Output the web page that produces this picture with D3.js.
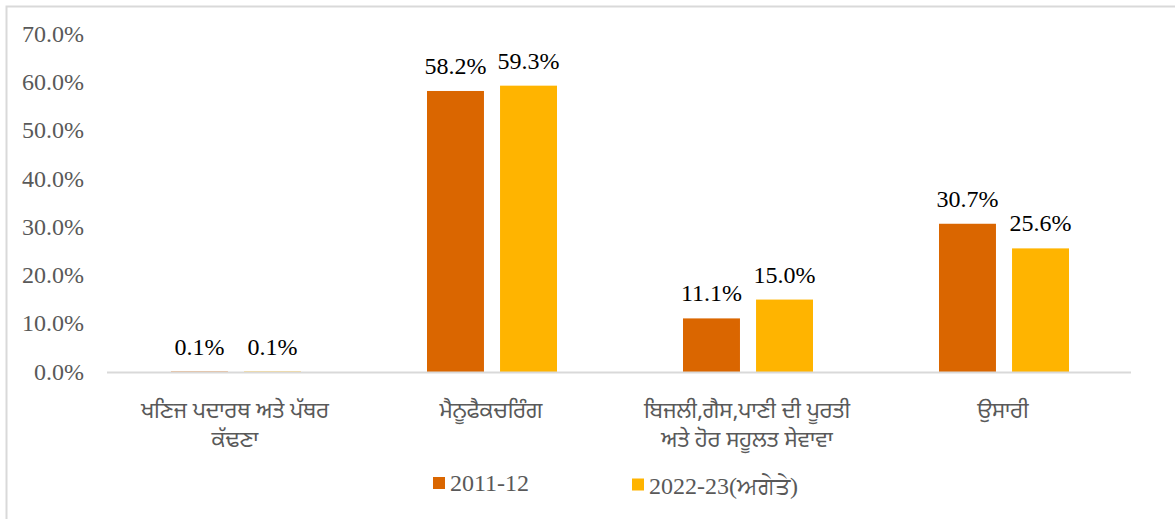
<!DOCTYPE html>
<html>
<head>
<meta charset="utf-8">
<script src="https://cdn.jsdelivr.net/npm/d3@7/dist/d3.min.js"></script>
<style>
  html, body { margin: 0; padding: 0; background: #fff; }
  svg { display: block; }
</style>
</head>
<body>
<svg id="chart" width="1175" height="519"></svg>
<script>
// Sector shares of the secondary sector (percent)
const categories = [
  ["ਖਣਿਜ ਪਦਾਰਥ ਅਤੇ ਪੱਥਰ", "ਕੱਢਣਾ"],
  ["ਮੈਨੂਫੈਕਚਰਿੰਗ"],
  ["ਬਿਜਲੀ,ਗੈਸ,ਪਾਣੀ ਦੀ ਪੂਰਤੀ", "ਅਤੇ ਹੋਰ ਸਹੂਲਤ ਸੇਵਾਵਾ"],
  ["ਉਸਾਰੀ"]
];
const seriesNames = ["2011-12", "2022-23(ਅਗੇਤੇ)"];
const values2011 = [0.1, 58.2, 11.1, 30.7];
const values2022 = [0.1, 59.3, 15.0, 25.6];
const yTicks = [0, 10, 20, 30, 40, 50, 60, 70];
const colors = ["#DA6600", "#FFB400"];

const svg = d3.select("#chart");
const serif = "'Liberation Serif', 'Times New Roman', serif";
const gurmukhi = "'Noto Sans Gurmukhi', 'Lohit Gurmukhi', 'Noto Sans', sans-serif";

// outer frame (only top and left edges fall inside the canvas)
svg.append("rect")
  .attr("x", 6.5).attr("y", 6.5)
  .attr("width", 1300).attr("height", 600)
  .attr("fill", "none").attr("stroke", "#d9d9d9").attr("stroke-width", 2);

const plot = { left: 107, right: 1131, top: 34, bottom: 372 };

const x0 = d3.scaleBand()
  .domain(d3.range(categories.length))
  .range([plot.left, plot.right])
  .padding(0);

const x1 = d3.scaleBand()
  .domain(d3.range(seriesNames.length))
  .range([64, 64 + 130])
  .paddingInner(0.22)
  .paddingOuter(0);

const y = d3.scaleLinear().domain([0, 70]).range([plot.bottom, plot.top]);

// y axis labels
const yAxis = d3.axisLeft(y).tickValues(yTicks).tickSize(0).tickPadding(0)
  .tickFormat(d => d.toFixed(1) + "%");
const yg = svg.append("g").attr("transform", "translate(84,0)").call(yAxis);
yg.select(".domain").remove();
yg.selectAll("text")
  .attr("font-family", serif).attr("font-size", 24).attr("fill", "#595959")
  .attr("dy", "0.3em");

// bars
const seriesValues = [values2011, values2022];
const groups = svg.append("g").selectAll("g")
  .data(categories.map((c, i) => i))
  .join("g")
  .attr("transform", i => `translate(${x0(i)},0)`);

groups.selectAll("rect")
  .data(i => seriesValues.map((vals, s) => ({ s, v: vals[i] })))
  .join("rect")
  .attr("x", d => x1(d.s))
  .attr("width", x1.bandwidth())
  .attr("y", d => y(d.v))
  .attr("height", d => y(0) - y(d.v))
  .attr("fill", d => colors[d.s]);

groups.selectAll("text.val")
  .data(i => seriesValues.map((vals, s) => ({ s, v: vals[i] })))
  .join("text")
  .attr("class", "val")
  .attr("x", d => x1(d.s) + x1.bandwidth() / 2)
  .attr("y", d => y(d.v) - 17)
  .attr("text-anchor", "middle")
  .attr("font-family", serif).attr("font-size", 24).attr("fill", "#000")
  .text(d => d.v.toFixed(1) + "%");

// baseline
svg.append("line")
  .attr("x1", plot.left).attr("x2", plot.right)
  .attr("y1", y(0) + 0.5).attr("y2", y(0) + 0.5)
  .attr("stroke", "#d9d9d9").attr("stroke-width", 2);

// category labels, one text element per line
const catG = svg.append("g");
categories.forEach((lines, i) => {
  lines.forEach((ln, k) => {
    catG.append("text")
      .attr("x", x0(i) + x0.bandwidth() / 2)
      .attr("y", 418 + k * 29)
      .attr("text-anchor", "middle")
      .attr("font-family", gurmukhi).attr("font-size", 22).attr("fill", "#595959")
      .text(ln);
  });
});

// legend
const legendX = [433, 632];
const legend = svg.append("g");
seriesNames.forEach((name, s) => {
  legend.append("rect")
    .attr("x", legendX[s]).attr("y", 477 + s * 1.5)
    .attr("width", 12).attr("height", 12)
    .attr("fill", colors[s]);
  legend.append("text")
    .attr("x", legendX[s] + 17).attr("y", 491 + s * 3)
    .attr("font-family", serif).attr("font-size", 24).attr("fill", "#595959")
    .text(name);
});
</script>
</body>
</html>
